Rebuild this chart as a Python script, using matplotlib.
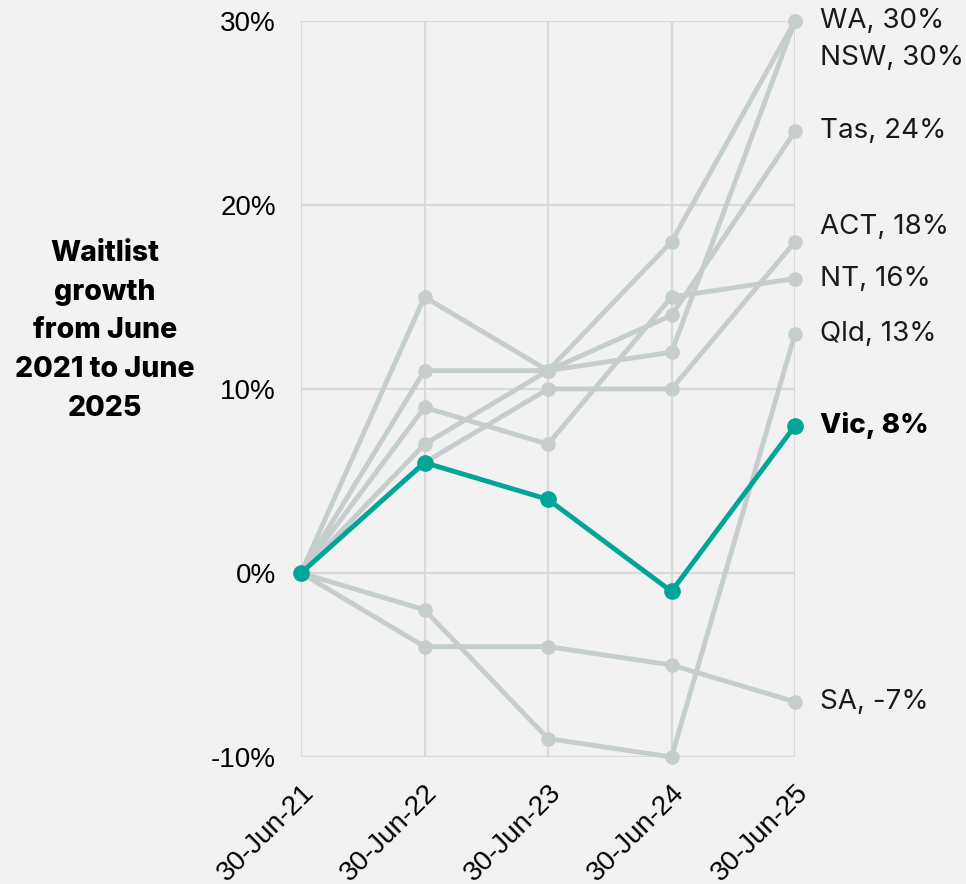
import numpy as np
import matplotlib.pyplot as plt

dates = ['30-Jun-21', '30-Jun-22', '30-Jun-23', '30-Jun-24', '30-Jun-25']

# growth since June 2021, %
wa  = [0, 15, 11, 18, 30]
nsw = [0, 11, 11, 12, 30]
tas = [0, 7, 11, 14, 24]
act = [0, 6, 10, 10, 18]
nt  = [0, 9, 7, 15, 16]
qld = [0, -2, -9, -10, 13]
sa  = [0, -4, -4, -5, -7]
vic = [0, 6, 4, -1, 8]

others = {'WA': wa, 'NSW': nsw, 'Tas': tas, 'ACT': act, 'NT': nt, 'Qld': qld, 'SA': sa}
# label y-positions, nudged where labels would overlap
label_y = {'WA': 30, 'NSW': 28, 'Tas': 24, 'ACT': 18.8, 'NT': 16, 'Qld': 13, 'SA': -7}

bg = '#f2f2f2'
grey = '#c5cecd'
teal = '#00a597'
grid_c = '#d9d9d9'

fig = plt.figure(figsize=(9.66, 8.84), dpi=100, facecolor=bg)
ax = fig.add_axes([301/966, 1 - 757/884, (795-301)/966, (757-21)/884])
ax.set_facecolor(bg)

x = np.arange(len(dates))
for name, vals in others.items():
    ax.plot(x, vals, color=grey, lw=3.5, marker='o', ms=9.5, zorder=2, clip_on=False)
    ax.text(1.05, label_y[name], f'{name}, {vals[-1]}%', transform=ax.get_yaxis_transform(),
            va='center', ha='left', fontsize=20, color='#1a1a1a', family='Inter')

ax.plot(x, vic, color=teal, lw=3.5, marker='o', ms=11, zorder=3, clip_on=False)
ax.text(1.05, vic[-1], f'Vic, {vic[-1]}%', transform=ax.get_yaxis_transform(),
        va='center', ha='left', fontsize=20, color='#000000', fontweight='heavy', family='Inter')

ax.set_xlim(0, 4)
ax.set_ylim(-10, 30)
ax.set_yticks([-10, 0, 10, 20, 30])
ax.set_yticklabels([f'{v}%' for v in [-10, 0, 10, 20, 30]], fontsize=20, family='Liberation Sans')
ax.set_xticks(x)
ax.set_xticklabels(dates, rotation=45, ha='right', va='top', rotation_mode='anchor',
                   fontsize=20, family='Liberation Sans')
ax.tick_params(length=0)
ax.tick_params(axis='y', pad=18)
ax.tick_params(axis='x', pad=16)
ax.grid(True, color=grid_c, lw=1.5, zorder=0)
for s in ax.spines.values():
    s.set_visible(False)

fig.text(105/966, 1 - 331/884, 'Waitlist\ngrowth\nfrom June\n2021 to June\n2025', ha='center', va='center',
         fontsize=20.5, fontweight='heavy', family='Inter', linespacing=1.55)

fig.savefig('out.png', dpi=100, facecolor=bg)
